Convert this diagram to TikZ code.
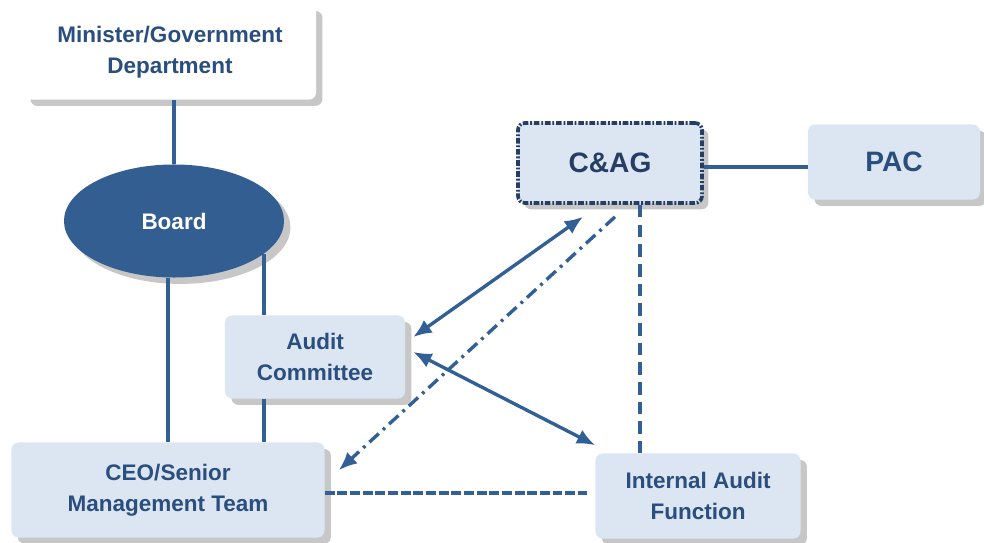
\documentclass[tikz,border=0pt]{standalone}
\usepackage{fontspec}
\setmainfont{Liberation Sans}
\usetikzlibrary{
    arrows.meta,
    calc,
    positioning,
    shadows,
    shapes.geometric
}
\definecolor{govline}{RGB}{50,96,150}
\definecolor{govfill}{RGB}{51,94,145}
\definecolor{govbox}{RGB}{220,230,242}
\definecolor{govtext}{RGB}{42,78,125}
\definecolor{govnavy}{RGB}{38,62,100}
\tikzset{
    % Box styles
    gov box/.style={
        draw=none,
        fill=govbox,
        rectangle,
        rounded corners=5pt,
        align=center,
        text=govtext,
        font=\fontsize{16}{22}\selectfont\bfseries,
        drop shadow={shadow xshift=0.16cm, shadow yshift=-0.16cm, opacity=0.4, fill=black!55}
    },
    board node/.style={
        ellipse,
        fill=govfill,
        inner sep=0pt,
        text=white,
        font=\fontsize{16}{22}\selectfont\bfseries,
        drop shadow={shadow xshift=0.16cm, shadow yshift=-0.16cm, opacity=0.4, fill=black!55}
    },
    auditor box/.style={
        gov box,
        draw=govnavy,
        line width=2.6pt,
        dash pattern=on 4pt off 1.3pt on 1.3pt off 1.3pt,
        text=govnavy,
        font=\fontsize{20}{24}\selectfont\bfseries
    },
    % Line styles
    link line/.style={
        draw=govline,
        line width=2.4pt
    },
    two way/.style={
        link line,
        {Latex[length=13pt,width=11pt]}-{Latex[length=13pt,width=11pt]}
    },
    report arrow/.style={
        draw=govline,
        line width=2.4pt,
        dash pattern=on 9pt off 4pt on 2pt off 4pt,
        -{Latex[length=13pt,width=11pt]}
    },
    dashed link/.style={
        draw=govline,
        line width=2.6pt,
        dash pattern=on 9pt off 5pt
    },
    dense link/.style={
        draw=govline,
        line width=3.4pt,
        dash pattern=on 7pt off 2pt
    }
}

\begin{document}
\begin{tikzpicture}[x=0.025cm, y=-0.025cm]
        \useasboundingbox (0,0) rectangle (984,543);

        % Nodes
        \node[gov box, fill=white, minimum width=7.3cm, minimum height=2.375cm] (minister) at (170,52) {Minister/Government\\Department};
        \node[board node, minimum width=5.5cm, minimum height=2.825cm] (board) at (174,221) {Board};
        \node[gov box, minimum width=4.5cm, minimum height=2.075cm] (audit) at (315,357) {Audit\\Committee};
        \node[gov box, minimum width=7.825cm, minimum height=2.375cm] (ceo) at (168,490) {CEO/Senior\\Management Team};
        \node[gov box, minimum width=5.125cm, minimum height=2.125cm] (ia) at (698,496) {Internal Audit\\Function};
        \node[auditor box, minimum width=4.6cm, minimum height=2cm] (cag) at (610,163) {C\&AG};
        \node[gov box, minimum width=4.3cm, minimum height=1.875cm, font=\fontsize{20}{24}\selectfont\bfseries] (pac) at (894,162) {PAC};

        % Governance lines
        \draw[link line] (board.north) -- (board.north |- minister.south);
        \draw[link line] ($(board.south)+(-6,0)$) -- ($(board.south |- ceo.north)+(-6,0)$);
        \draw[link line] (board.-20) -- (board.-20 |- audit.north);
        \draw[link line] (board.-20 |- audit.south) -- (board.-20 |- ceo.north);
        \draw[link line] ($(cag.east)+(0,4)$) -- ($(pac.west)+(0,5)$);

        % Audit relationships
        \draw[two way] ($(cag.south)+(-27,12)$) -- ($(audit.east)+(8,-20)$);
        \draw[two way] ($(audit.east)+(8,-5)$) -- ($(ia.north west)+(0,-8)$);
        \draw[report arrow] ($(cag.south)+(5,12)$) -- ($(ceo.north east)+(14,28)$);
        \draw[dashed link] ($(cag.south)+(30,0)$) -- ($(cag.south |- ia.north)+(30,0)$);
        \draw[dense link] ($(ceo.east)+(0,3)$) -- ($(ia.west)+(-8,-3)$);
    \end{tikzpicture}
\end{document}
